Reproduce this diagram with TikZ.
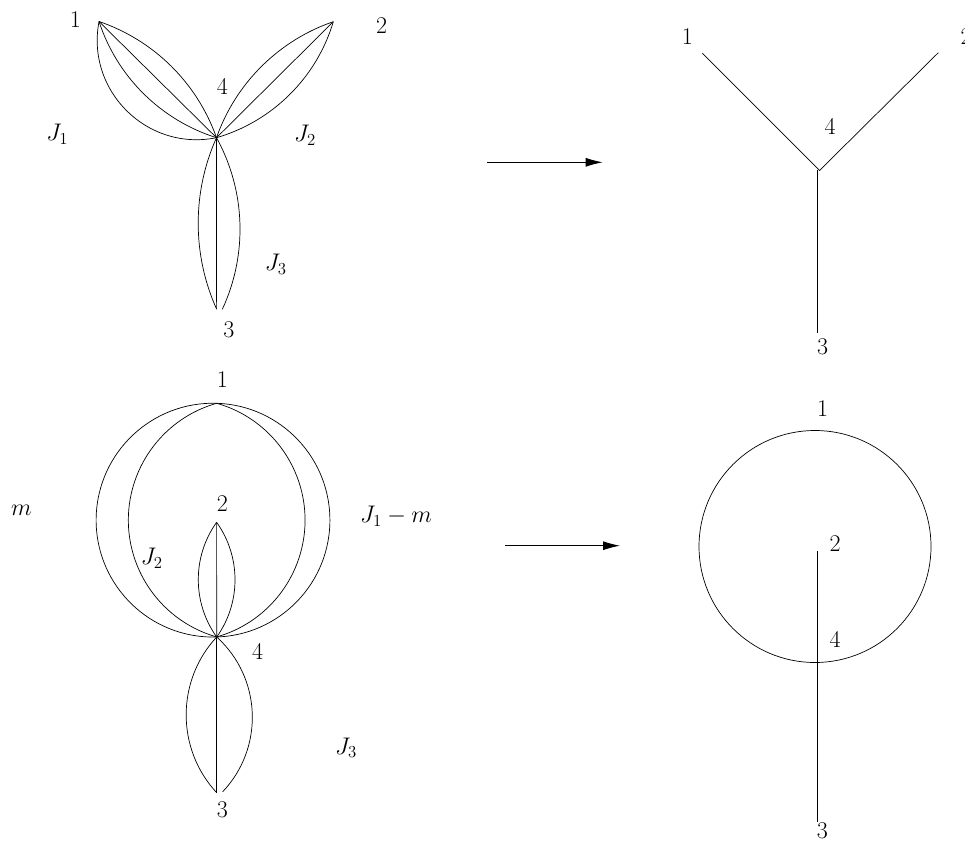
\RequirePackage{fix-cm}
\documentclass[tikz,border=0pt]{standalone}
\usetikzlibrary{arrows.meta}
\begin{document}
\begin{tikzpicture}[x=1pt,y=1pt,
  edge/.style={line width=0.7pt},
  lab/.style={font=\fontsize{24}{28}\selectfont, inner sep=0pt},
  arr/.style={line width=0.9pt,-{Latex[length=17pt,width=9pt]}}]
\useasboundingbox (0,0) rectangle (965,-840);
% ---------- top-left ----------
\coordinate (V1) at (99,-21.5);
\coordinate (V2) at (333.3,-21.7);
\coordinate (V4) at (216.5,-137.7);
\coordinate (T3) at (216.6,-308.5);
\coordinate (T3L) at (216.7,-309.3);
\coordinate (T3R) at (222.3,-309.3);
\draw[edge] (V1) -- (V4);
\draw[edge] (V1) to[bend right=56.1, looseness=1.093] (V4);
\draw[edge] (V1) to[bend right=27.2, looseness=0.901] (V4);
\draw[edge] (V1) to[bend left=25.9, looseness=0.896] (V4);
\draw[edge] (V2) -- (V4);
\draw[edge] (V2) to[bend right=25.9, looseness=0.896] (V4);
\draw[edge] (V2) to[bend left=28.6, looseness=0.907] (V4);
\draw[edge] (V4) -- (T3);
\draw[edge] (V4) to[bend right=24.3, looseness=0.891] (T3L);
\draw[edge] (V4) to[bend left=26.9, looseness=0.900] (T3R);
\node[lab] (tl1) at (75.5,-19.7) {1};
\node[lab] (tl2) at (381.7,-25.3) {2};
\node[lab] (tl4) at (222.3,-86) {4};
\node[lab] (tlJ1) at (57.3,-134) {$J_1$};
\node[lab] (tlJ2) at (305,-135) {$J_2$};
\node[lab] (tlJ3) at (275.7,-264) {$J_3$};
\node[lab] (tl3) at (229,-330) {3};
% ---------- top arrow ----------
\coordinate (a1s) at (487.3,-162.3);
\coordinate (a1e) at (602.7,-162.3);
\draw[arr] (a1s) -- (a1e);
% ---------- top-right ----------
\coordinate (R1) at (702.3,-53.3);
\coordinate (R2) at (938.3,-52.7);
\coordinate (R4) at (819.5,-170.5);
\coordinate (R4v) at (817.5,-169.5);
\coordinate (R3) at (817.5,-333.3);
\draw[edge] (R1) -- (R4) -- (R2);
\draw[edge] (R4v) -- (R3);
\node[lab] (tr1) at (687.3,-36.7) {1};
\node[lab] (tr2) at (966,-37) {2};
\node[lab] (tr4) at (830,-126.7) {4};
\node[lab] (tr3) at (822.7,-346.7) {3};
% ---------- bottom-left ----------
\coordinate (B1) at (216.7,-403.3);
\coordinate (B4) at (216.7,-637);
\coordinate (B2) at (216.6,-522.3);
\coordinate (B3L) at (216.7,-792.7);
\coordinate (B3R) at (222.7,-791.7);
\draw[edge] (B1) arc[start angle=88.19, end angle=448.19, radius=116.9];
\draw[edge] (B1) arc[start angle=105.8, end angle=254.2, radius=121.4];
\draw[edge] (B1) arc[start angle=74.2, end angle=-74.2, radius=121.4];
\draw[edge] (B2) -- (B4);
\draw[edge] (B2) to[bend right=35.6, looseness=0.940] (B4);
\draw[edge] (B2) to[bend left=35.6, looseness=0.940] (B4);
\draw[edge] (B4) -- (B3L);
\draw[edge] (B4) to[bend right=43.0, looseness=0.983] (B3L);
\draw[edge] (B4) to[bend left=45.7, looseness=1.002] (B3R);
\node[lab] (bl1) at (222.3,-380) {1};
\node[lab] (bl2) at (222.3,-504) {2};
\node[lab] (blm) at (21.3,-510.3) {$m$};
\node[lab] (blJ1m) at (396,-516) {$J_1-m$};
\node[lab] (blJ2) at (151.7,-558.3) {$J_2$};
\node[lab] (bl4) at (257.7,-651) {4};
\node[lab] (blJ3) at (346,-747.7) {$J_3$};
\node[lab] (bl3) at (222.3,-810) {3};
% ---------- bottom arrow ----------
\coordinate (a2s) at (505,-545.7);
\coordinate (a2e) at (620,-545.7);
\draw[arr] (a2s) -- (a2e);
% ---------- bottom-right ----------
\coordinate (Qc) at (815,-546.5);
\coordinate (Q2) at (817.3,-551);
\coordinate (Q3) at (817.3,-821.7);
\draw[edge] (Qc) circle[radius=116];
\draw[edge] (Q2) -- (Q3);
\node[lab] (br1) at (822.7,-409) {1};
\node[lab] (br2) at (835,-544) {2};
\node[lab] (br4) at (835,-639) {4};
\node[lab] (br3) at (822.3,-830.5) {3};
\end{tikzpicture}
\end{document}
